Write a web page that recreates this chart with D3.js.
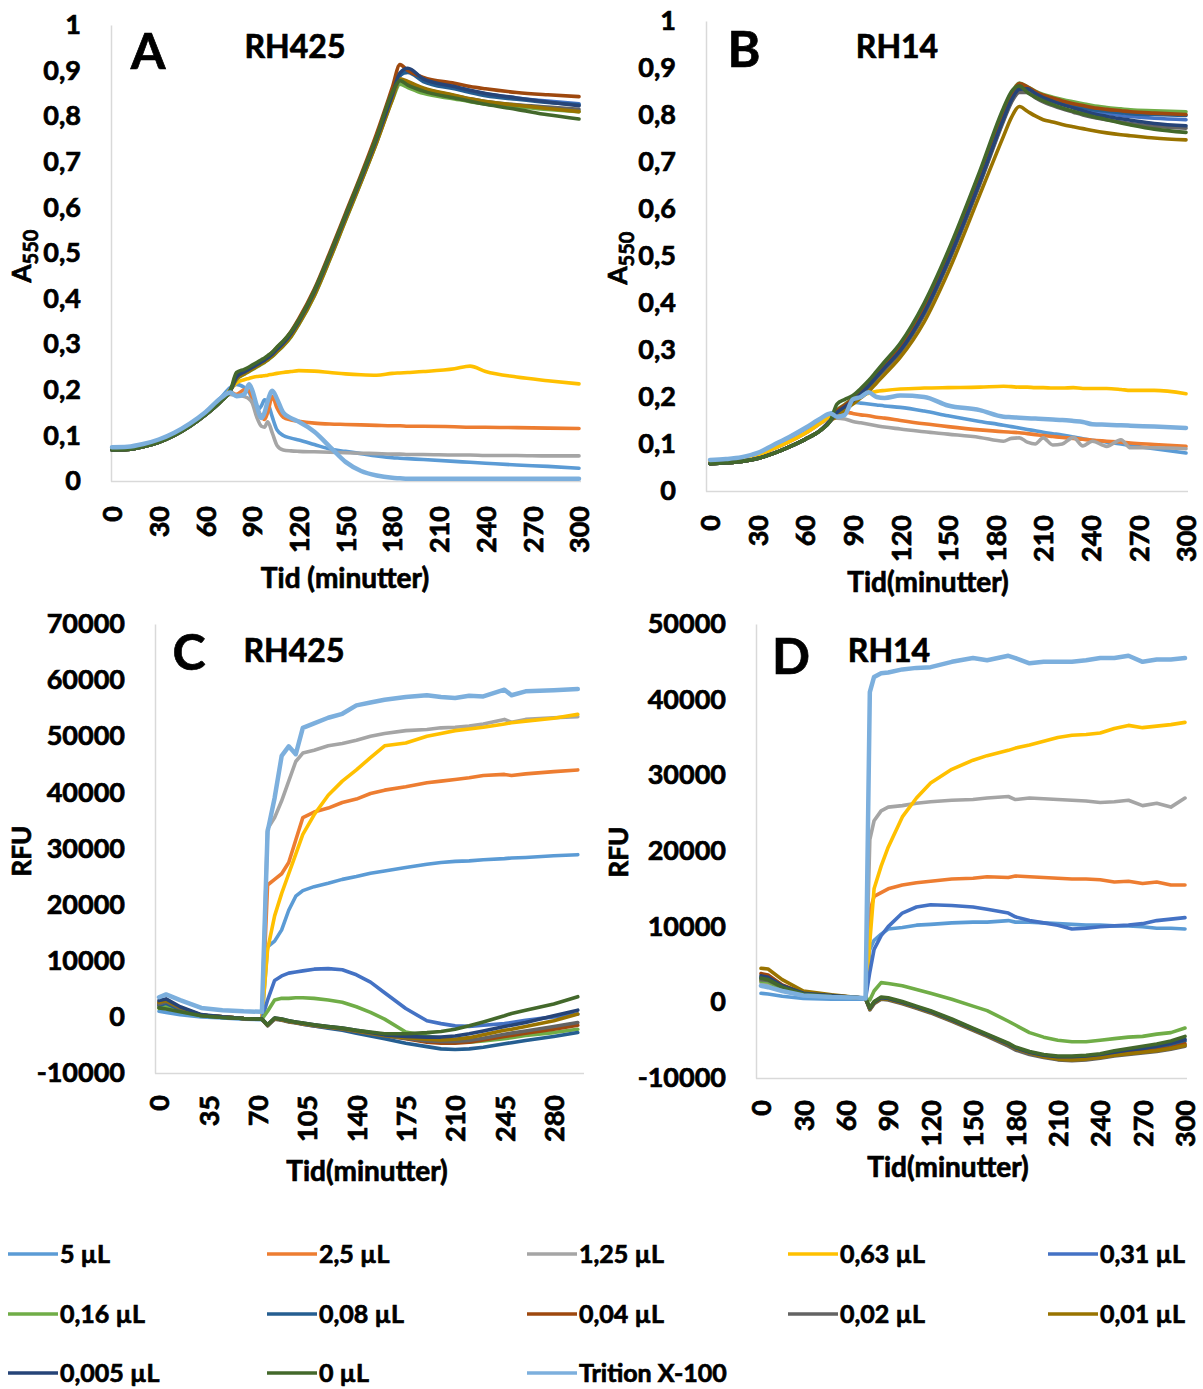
<!DOCTYPE html>
<html>
<head>
<meta charset="utf-8">
<script src="https://cdn.jsdelivr.net/npm/d3@7"></script>
<style>
  body { margin: 0; background: #fff; }
  svg text { font-family: Lato, "Open Sans", sans-serif; font-weight: bold; fill: #000; stroke: #000; stroke-width: 0.7px; }
</style>
</head>
<body>
<svg id="chart" width="1203" height="1389"></svg>
<script>
// legend order
const seriesNames = ["5 µL", "2,5 µL", "1,25 µL", "0,63 µL", "0,31 µL", "0,16 µL", "0,08 µL",
  "0,04 µL", "0,02 µL", "0,01 µL", "0,005 µL", "0 µL", "Trition X-100"];
const colors = ["#5B9BD5", "#ED7D31", "#A5A5A5", "#FFC000", "#4472C4", "#70AD47", "#255E91",
  "#9E480E", "#636363", "#997300", "#264478", "#43682B", "#7CAFDD"];

// ---- A: RH425, A550 ----
const tA = [0,10,20,30,40,50,60,70,76,80,85,88,90,93,96,98,100,103,106,110,115,120,130,140,150,160,170,180,185,190,200,220,230,240,260,280,300];
const grA = [.068,.069,.075,.085,.1,.12,.145,.175,.198];
const valuesA = [
  [.072,.073,.08,.09,.105,.125,.15,.183,.205,.212,.205,.195,.18,.155,.165,.178,.172,.14,.112,.1,.094,.09,.08,.07,.065,.06,.055,.051,.05,.049,.047,.043,.041,.039,.035,.032,.028],
  [.07,.071,.077,.087,.101,.121,.146,.178,.195,.19,.2,.198,.185,.16,.142,.135,.15,.185,.16,.14,.134,.131,.127,.125,.124,.123,.122,.121,.121,.12,.12,.119,.118,.118,.117,.116,.115],
  [.07,.071,.077,.087,.101,.121,.146,.178,.19,.188,.185,.18,.172,.14,.12,.118,.13,.105,.078,.068,.066,.065,.064,.063,.062,.061,.06,.059,.059,.058,.058,.057,.057,.056,.056,.055,.055],
  [.07,.071,.077,.087,.101,.121,.146,.178,.2,.215,.222,.225,.227,.229,.23,.231,.232,.234,.236,.238,.24,.242,.241,.238,.235,.233,.232,.236,.237,.238,.24,.246,.252,.24,.228,.22,.213],
  grA.concat([.225,.236,.242,.246,.252,.258,.262,.267,.276,.287,.3,.32,.347,.412,.492,.577,.66,.748,.842,.888,.902,.882,.864,.856,.849,.84,.833,.827]),
  grA.concat([.222,.234,.24,.244,.25,.256,.26,.265,.273,.283,.296,.316,.343,.406,.486,.571,.655,.742,.835,.87,.863,.85,.838,.832,.827,.82,.815,.81]),
  grA.concat([.227,.238,.244,.248,.254,.26,.264,.269,.277,.288,.301,.322,.349,.414,.494,.579,.663,.75,.845,.89,.896,.876,.86,.852,.845,.837,.83,.825]),
  grA.concat([.23,.242,.248,.252,.258,.264,.268,.273,.282,.293,.306,.328,.356,.421,.502,.587,.672,.762,.862,.913,.9,.885,.872,.865,.86,.852,.847,.843]),
  grA.concat([.226,.237,.243,.247,.253,.259,.263,.268,.276,.286,.299,.319,.346,.41,.49,.575,.658,.745,.84,.878,.872,.86,.845,.838,.832,.825,.82,.815]),
  grA.concat([.224,.235,.241,.245,.251,.257,.261,.266,.274,.284,.297,.317,.344,.407,.487,.572,.656,.742,.836,.882,.876,.862,.846,.838,.832,.824,.817,.81]),
  grA.concat([.228,.239,.245,.249,.255,.261,.265,.27,.278,.289,.302,.323,.35,.415,.495,.58,.664,.751,.846,.895,.905,.882,.865,.857,.85,.84,.831,.823]),
  grA.concat([.238,.245,.25,.254,.26,.266,.27,.275,.283,.294,.307,.327,.353,.418,.498,.583,.668,.755,.852,.878,.868,.855,.84,.833,.826,.815,.803,.794]),
  [.074,.075,.081,.091,.106,.126,.151,.182,.194,.186,.19,.212,.2,.165,.138,.15,.175,.198,.18,.15,.138,.13,.108,.075,.042,.022,.012,.007,.006,.005,.005,.005,.005,.005,.005,.005,.005]
];

// ---- B: RH14, A550 ----
const tB = [0,10,20,30,40,50,60,70,76,80,85,90,95,100,105,110,120,135,150,170,185,190,195,200,205,210,216,222,229,235,241,250,259,265,280,300];
const grB = [.058,.06,.063,.069,.08,.094,.11,.13,.15];
const lowB = [.062,.064,.068,.076,.09,.105,.123,.145];
const valuesB = [
  [.065,.067,.071,.08,.096,.113,.132,.153,.165,.17,.18,.189,.187,.185,.183,.181,.178,.17,.16,.148,.14,.137,.134,.131,.128,.125,.122,.119,.115,.111,.108,.104,.1,.097,.09,.081],
  lowB.concat([.158,.162,.168,.165,.162,.16,.157,.155,.15,.143,.137,.13,.126,.125,.124,.122,.12,.118,.116,.114,.112,.11,.108,.106,.104,.102,.099,.095]),
  lowB.concat([.155,.155,.153,.148,.145,.142,.139,.136,.132,.126,.121,.114,.106,.112,.113,.104,.1,.113,.098,.1,.114,.096,.106,.095,.109,.092,.092,.09]),
  lowB.concat([.16,.168,.18,.195,.203,.208,.212,.214,.217,.219,.22,.221,.223,.222,.221,.221,.22,.22,.219,.219,.22,.218,.218,.218,.216,.214,.214,.207]),
  grB.concat([.166,.178,.191,.206,.223,.242,.261,.298,.378,.487,.655,.79,.83,.852,.855,.845,.836,.829,.823,.817,.812,.808,.803,.799,.797,.793,.79]),
  grB.concat([.172,.184,.198,.213,.23,.249,.268,.306,.39,.5,.672,.805,.845,.868,.86,.851,.844,.838,.833,.828,.824,.82,.816,.813,.811,.809,.807]),
  grB.concat([.169,.181,.194,.209,.226,.245,.264,.301,.383,.492,.662,.797,.837,.862,.858,.848,.84,.833,.827,.821,.816,.812,.808,.805,.803,.801,.799]),
  grB.concat([.171,.183,.196,.211,.228,.247,.266,.304,.387,.497,.668,.803,.843,.867,.86,.85,.842,.836,.83,.824,.82,.816,.812,.809,.807,.804,.801]),
  grB.concat([.165,.177,.19,.204,.221,.24,.258,.295,.375,.484,.652,.787,.827,.848,.848,.837,.828,.82,.813,.806,.8,.795,.79,.785,.782,.776,.772]),
  grB.concat([.158,.172,.185,.198,.212,.23,.248,.285,.36,.465,.63,.755,.795,.818,.808,.798,.79,.785,.78,.775,.771,.767,.762,.758,.756,.751,.747]),
  grB.concat([.167,.179,.192,.207,.224,.243,.262,.299,.38,.489,.657,.792,.832,.855,.856,.846,.837,.829,.822,.815,.809,.803,.797,.792,.789,.782,.777]),
  grB.concat([.185,.195,.203,.218,.235,.255,.275,.315,.4,.51,.68,.815,.85,.862,.848,.838,.83,.822,.815,.808,.802,.797,.79,.783,.779,.77,.763]),
  [.066,.068,.072,.081,.098,.115,.134,.155,.165,.158,.162,.195,.2,.21,.2,.198,.203,.2,.182,.172,.158,.157,.156,.155,.154,.153,.152,.151,.149,.147,.142,.141,.14,.139,.137,.134]
];

// ---- C: RH425, RFU ----
const tC = [0,5,15,30,45,60,73,77,82,87,92,97,102,110,120,130,140,150,160,175,190,200,210,220,230,245,250,260,280,297];
const valuesC = [
  [1000,800,400,0,-200,-400,-500,12500,13500,15500,19000,21500,22500,23200,23800,24500,25000,25600,26000,26600,27200,27500,27700,27800,28000,28200,28300,28400,28700,28900],
  [2000,2500,1500,300,0,-300,-400,23500,24500,25500,27500,31500,35500,36500,37200,38200,38800,39800,40400,41000,41700,42000,42300,42600,43000,43200,43000,43300,43700,44000],
  [1800,2200,1400,300,0,-300,-400,33500,35500,38500,42000,45500,47000,47500,48300,48700,49300,50000,50500,51000,51200,51500,51600,51800,52200,53000,52500,53000,53300,53500],
  [1800,2300,1500,300,0,-300,-400,12000,18000,22000,25500,29000,32500,36000,39500,42000,44000,46200,48300,48800,50000,50500,51000,51300,51600,52200,52400,52700,53200,53900],
  [2200,2600,1600,300,0,-300,-400,3000,6500,7300,7800,8000,8200,8500,8600,8400,7500,6200,4300,1500,-700,-1200,-1600,-1700,-1500,-1200,-1000,-600,0,500],
  [1500,1800,1000,200,-100,-300,-400,1000,3000,3300,3300,3400,3400,3300,3000,2600,1800,800,-400,-2700,-3400,-3800,-4200,-4500,-4300,-3900,-3700,-3300,-2800,-2200],
  [2000,2400,1300,200,-100,-300,-400,-1500,-300,-500,-800,-1000,-1300,-1600,-2000,-2400,-2900,-3400,-3900,-4700,-5300,-5700,-5800,-5700,-5400,-4800,-4600,-4200,-3500,-2800],
  [2500,2800,1600,300,0,-300,-400,-1500,-300,-500,-800,-1000,-1200,-1500,-1800,-2100,-2500,-2900,-3300,-3900,-4500,-4700,-4700,-4500,-4100,-3500,-3300,-2900,-2200,-1500],
  [2300,2700,1500,300,0,-300,-400,-1600,-400,-600,-900,-1100,-1300,-1600,-1900,-2200,-2600,-3000,-3400,-3800,-4300,-4400,-4400,-4200,-3800,-3100,-2900,-2500,-1700,-1000],
  [2600,2900,1700,300,0,-300,-400,-1500,-300,-500,-800,-1000,-1200,-1500,-1800,-2100,-2500,-2900,-3300,-3700,-4000,-4100,-4000,-3700,-3200,-2400,-2200,-1700,-700,500],
  [2900,3200,1800,400,0,-300,-400,-1400,-200,-400,-700,-900,-1100,-1400,-1700,-2000,-2400,-2800,-3200,-3500,-3600,-3600,-3400,-3000,-2500,-1700,-1500,-1000,200,1200],
  [1600,1400,900,200,-100,-300,-400,-1400,-200,-400,-700,-900,-1100,-1400,-1700,-2000,-2400,-2700,-3000,-3000,-2800,-2600,-2200,-1600,-900,200,600,1200,2300,3600],
  [3500,4000,3000,1600,1200,1000,900,33000,39000,46500,48200,46800,51500,52300,53300,54000,55500,56000,56500,57000,57300,57000,56800,57200,57100,58300,57300,58000,58200,58400]
];

// ---- D: RH14, RFU ----
const tD = [0,5,15,30,50,70,74,77,80,85,90,100,110,120,135,150,160,175,180,190,200,210,220,230,240,250,260,270,280,290,300];
const valuesD = [
  [1200,1100,800,500,400,400,400,7000,8200,9000,9700,9900,10200,10300,10500,10600,10600,10800,10600,10600,10500,10400,10300,10200,10200,10100,10100,10000,9800,9800,9700],
  [2800,2700,1800,1100,800,600,500,12000,14000,14500,15000,15500,15800,16000,16300,16400,16600,16500,16700,16600,16500,16400,16300,16300,16200,15900,16000,15700,15900,15500,15500],
  [2600,2500,1700,1000,800,600,500,21500,24000,25300,25800,26000,26300,26500,26700,26800,27000,27200,26800,27000,26900,26800,26700,26600,26400,26500,26700,26000,26300,25800,27000],
  [3000,2900,1900,1100,800,600,500,8000,15000,18000,20500,24500,27000,29000,30800,32000,32600,33300,33600,34000,34500,35000,35300,35400,35600,36200,36600,36300,36500,36700,37000],
  [3200,3100,2000,1100,800,600,500,4000,7000,8800,10000,11800,12600,12900,12800,12600,12300,11800,11300,10800,10500,10200,9700,9800,10000,10100,10200,10400,10800,11000,11200],
  [2800,2700,1800,1100,800,600,500,300,1500,2600,2500,2200,1700,1200,400,-500,-1100,-2500,-3000,-4000,-4600,-5000,-5200,-5200,-5000,-4800,-4600,-4500,-4200,-4000,-3400],
  [3300,3200,2100,1200,900,600,500,-800,0,600,500,0,-600,-1200,-2300,-3500,-4300,-5500,-6000,-6600,-7000,-7200,-7300,-7200,-7000,-6700,-6500,-6200,-6000,-5600,-5100],
  [3800,3600,2300,1200,900,600,500,-900,-100,500,400,-100,-700,-1300,-2400,-3600,-4400,-5600,-6100,-6700,-7100,-7400,-7500,-7400,-7200,-6900,-6700,-6500,-6300,-6000,-5500],
  [3000,2900,2000,1100,800,600,500,-1000,-200,400,300,-200,-800,-1400,-2500,-3700,-4500,-5800,-6300,-6900,-7300,-7600,-7700,-7600,-7400,-7100,-6900,-6700,-6500,-6200,-5800],
  [4500,4400,3000,1500,1000,600,500,-900,-100,500,400,-100,-700,-1300,-2400,-3600,-4400,-5600,-6100,-6700,-7200,-7500,-7600,-7500,-7300,-7000,-6800,-6600,-6400,-6100,-5700],
  [3500,3300,2200,1200,900,600,500,-800,0,600,500,0,-600,-1200,-2300,-3500,-4300,-5500,-6000,-6600,-7000,-7200,-7200,-7100,-6900,-6600,-6300,-6100,-5800,-5400,-4900],
  [3200,3000,2000,1100,800,600,500,-700,100,700,600,100,-500,-1100,-2200,-3400,-4200,-5400,-5900,-6500,-6900,-7100,-7100,-7000,-6800,-6400,-6100,-5800,-5500,-5100,-4500],
  [2200,2000,1500,900,700,600,500,41000,43000,43500,43600,44000,44200,44300,45000,45500,45200,45800,45500,44800,45000,45000,45000,45200,45500,45500,45800,45000,45300,45300,45500]
];

const ticksA550 = d3.range(0, 11).map(d => d / 10);
const ticksMin30 = d3.range(0, 301, 30);
const ticksMin35 = d3.range(0, 281, 35);

const svg = d3.select("#chart");
const commaFmt = d => String(d).replace(".", ",");

function drawPanel(p) {
  const x = d3.scaleLinear().domain([0, 300]).range(p.xr);
  const y = d3.scaleLinear().domain(p.yd).range(p.yr);
  const g = svg.append("g");

  // y axis
  const ya = g.append("g")
    .attr("transform", `translate(${p.axisX},0)`)
    .call(d3.axisLeft(y).tickValues(p.yTicks).tickFormat(p.yFmt).tickSize(0).tickPadding(30));
  ya.select(".domain").attr("stroke", "#d9d9d9").attr("stroke-width", 1.5);
  ya.selectAll("text").style("font-size", "27px").attr("font-family", null);

  // x axis
  const xa = g.append("g")
    .attr("transform", `translate(0,${p.yr[0]})`)
    .call(d3.axisBottom(x).tickValues(p.xTicks).tickSize(0));
  xa.select(".domain").attr("d", `M${p.axisX},0.5H${p.xr[1] + 2}`)
    .attr("stroke", "#d9d9d9").attr("stroke-width", 1.5);
  xa.selectAll("text")
    .style("font-size", "27px").attr("font-family", null)
    .attr("transform", "rotate(-90)")
    .attr("text-anchor", "end")
    .attr("x", -p.xPad).attr("y", 0).attr("dy", "0.36em");

  // lines
  const line = d3.line()
    .x((d, i) => x(p.t[i]))
    .y(d => y(d))
    .curve(p.smooth ? d3.curveMonotoneX : d3.curveLinear);

  g.selectAll("path.series")
    .data(p.values)
    .enter()
    .append("path")
    .attr("class", "series")
    .attr("fill", "none")
    .attr("stroke", (d, i) => colors[i])
    .attr("stroke-width", (d, i) => i === 12 ? 4.5 : 3.6)
    .attr("stroke-linejoin", "round")
    .attr("stroke-linecap", "round")
    .attr("d", line);

  // panel letter & strain
  g.append("text").attr("x", p.letterPos[0]).attr("y", p.letterPos[1])
    .attr("text-anchor", "middle").style("font-size", "50px").text(p.letter);
  g.append("text").attr("x", p.strainPos[0]).attr("y", p.strainPos[1])
    .attr("text-anchor", "middle").style("font-size", "32px").text(p.strain);

  // axis titles
  g.append("text").attr("x", p.xTitlePos[0]).attr("y", p.xTitlePos[1])
    .attr("text-anchor", "middle").style("font-size", "28px").text(p.xTitle);
  const yt = g.append("text")
    .attr("transform", `translate(${p.yTitlePos[0]},${p.yTitlePos[1]}) rotate(-90)`)
    .attr("text-anchor", "middle").style("font-size", "26px");
  yt.append("tspan").text(p.yTitle);
  if (p.ySub) yt.append("tspan").attr("dy", 7).style("font-size", "20px").text(p.ySub);
}

drawPanel({
  t: tA, values: valuesA, smooth: true,
  xr: [112, 579], yd: [0, 1], yr: [481, 25], axisX: 111, xPad: 25,
  yTicks: ticksA550, yFmt: commaFmt, xTicks: ticksMin30,
  letter: "A", letterPos: [148, 69], strain: "RH425", strainPos: [295, 58],
  xTitle: "Tid (minutter)", xTitlePos: [345, 588], yTitle: "A", ySub: "550", yTitlePos: [31, 256]
});
drawPanel({
  t: tB, values: valuesB, smooth: true,
  xr: [710, 1186], yd: [0, 1], yr: [491, 21], axisX: 706, xPad: 24,
  yTicks: ticksA550, yFmt: commaFmt, xTicks: ticksMin30,
  letter: "B", letterPos: [744, 67], strain: "RH14", strainPos: [897, 58],
  xTitle: "Tid(minutter)", xTitlePos: [928, 592], yTitle: "A", ySub: "550", yTitlePos: [627, 258]
});
drawPanel({
  t: tC, values: valuesC, smooth: false,
  xr: [159, 582], yd: [-10000, 70000], yr: [1073, 624], axisX: 155, xPad: 22,
  yTicks: d3.range(-10000, 70001, 10000), yFmt: d => String(d), xTicks: ticksMin35,
  letter: "C", letterPos: [189, 670], strain: "RH425", strainPos: [294, 662],
  xTitle: "Tid(minutter)", xTitlePos: [367, 1181], yTitle: "RFU", yTitlePos: [31, 851]
});
drawPanel({
  t: tD, values: valuesD, smooth: false,
  xr: [761, 1185], yd: [-10000, 50000], yr: [1078, 624], axisX: 756, xPad: 22,
  yTicks: d3.range(-10000, 50001, 10000), yFmt: d => String(d), xTicks: ticksMin30,
  letter: "D", letterPos: [791, 674], strain: "RH14", strainPos: [889, 662],
  xTitle: "Tid(minutter)", xTitlePos: [948, 1177], yTitle: "RFU", yTitlePos: [628, 852]
});

// legend
const legCols = [8, 267, 527, 788, 1048];
const legRows = [1254, 1314, 1373];
const leg = svg.append("g").selectAll("g")
  .data(seriesNames)
  .enter()
  .append("g")
  .attr("transform", (d, i) => `translate(${legCols[i % 5]},${legRows[Math.floor(i / 5)]})`);
leg.append("line").attr("x1", 0).attr("x2", 50).attr("y1", 0).attr("y2", 0)
  .attr("stroke", (d, i) => colors[i]).attr("stroke-width", 3.5);
leg.append("text").attr("x", 52).attr("y", 9).style("font-size", "25px").text(d => d);
</script>
</body>
</html>
